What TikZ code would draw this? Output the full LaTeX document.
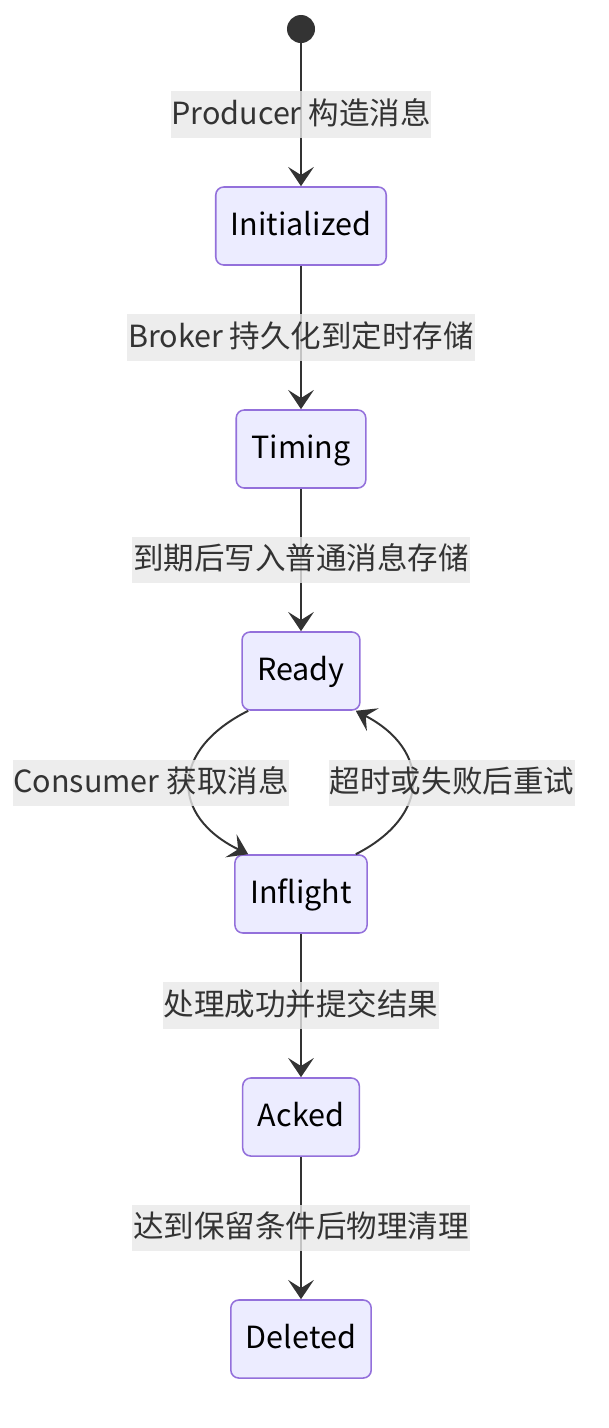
\documentclass[tikz,border=0pt]{standalone}
\usepackage{fontspec}
\setmainfont{Noto Sans CJK SC}
\usetikzlibrary{arrows.meta}
\definecolor{statefill}{HTML}{ECECFF}
\definecolor{stateline}{HTML}{9370DB}
\definecolor{edgeline}{HTML}{333333}
\definecolor{labelfill}{HTML}{E8E8E8}
\tikzset{
  statebox/.style={draw=stateline,fill=statefill,line width=1.1pt,rounded corners=0.2cm,
    minimum height=1.95cm,inner xsep=0.38cm,text height=0.625cm,text depth=0.15cm,
    font=\fontsize{21.7pt}{26pt}\selectfont,text=black},
  edgelabel/.style={fill=labelfill,fill opacity=0.8,text opacity=1,text=edgeline,
    inner xsep=0.02cm,inner ysep=0pt,minimum height=1.17cm,text height=0.625cm,text depth=0.15cm,
    font=\fontsize{21.7pt}{26pt}\selectfont},
  startdot/.style={circle,fill=edgeline,minimum size=0.7cm,inner sep=0pt},
  trans/.style={draw=edgeline,line width=1.4pt,-{Stealth[length=0.48cm,width=0.64cm,inset=0.2cm]}},
}
\begin{document}
\begin{tikzpicture}[x=0.025cm,y=-0.025cm]
\useasboundingbox (0,0) rectangle (608,1428);
% states
\node[startdot] (start) at (301,29) {};
\node[statebox] (init) at (301,226) {Initialized};
\node[statebox] (timing) at (301,449) {Timing};
\node[statebox] (ready) at (301,671) {Ready};
\node[statebox] (inflight) at (301,894) {Inflight};
\node[statebox] (acked) at (301,1117) {Acked};
\node[statebox] (deleted) at (301,1339) {Deleted};
% transitions
\draw[trans] (start) -- node[edgelabel] (lmake) {Producer 构造消息} (init);
\draw[trans] (init) -- node[edgelabel] (lstore) {Broker 持久化到定时存储} (timing);
\draw[trans] (timing) -- node[edgelabel] (ldue) {到期后写入普通消息存储} (ready);
\draw[trans] (ready.-143) .. controls (170,750) and (170,816) .. (inflight.143);
\draw[trans] (inflight.36) .. controls (431,816) and (431,750) .. (ready.-36);
\node[edgelabel] (lfetch) at (151,783) {Consumer 获取消息};
\node[edgelabel] (lretry) at (452,783) {超时或失败后重试};
\draw[trans] (inflight) -- node[edgelabel] (lcommit) {处理成功并提交结果} (acked);
\draw[trans] (acked) -- node[edgelabel] (lclean) {达到保留条件后物理清理} (deleted);
\end{tikzpicture}
\end{document}
